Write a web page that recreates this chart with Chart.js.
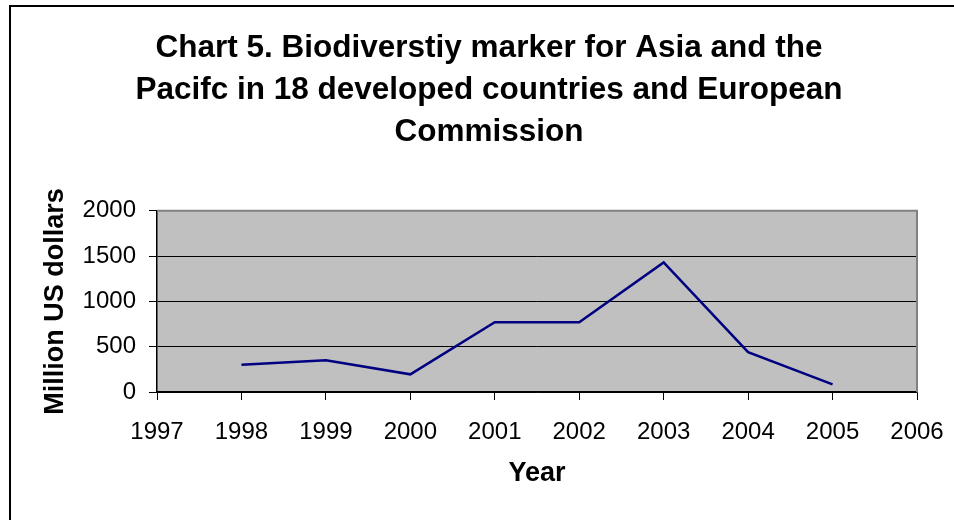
<!DOCTYPE html>
<html>
<head>
<meta charset="utf-8">
<title>Chart 5. Biodiversity marker</title>
<script src="https://cdn.jsdelivr.net/npm/chart.js@4.4.1/dist/chart.umd.min.js"></script>
<style>
    html, body { margin: 0; padding: 0; background: #fff; }
    #wrap { width: 954px; height: 520px; position: relative; }
</style>
</head>
<body>
<div id="wrap"><canvas id="ctx"></canvas></div>
<script>
// Biodiversity marker, Asia and the Pacific (million US dollars)
const years = [1998, 1999, 2000, 2001, 2002, 2003, 2004, 2005];
const values = [300, 350, 195, 770, 770, 1430, 440, 85];
const yearRange = [1997, 2006];
const valueTicks = [0, 500, 1000, 1500, 2000];

const titleLines = [
    'Chart 5. Biodiverstiy marker for Asia and the',
    'Pacifc in 18 developed countries and European',
    'Commission'
];

const FONT = "'Liberation Sans', Arial, sans-serif";

// grey plot area, its grey top/right edge and the outer frame
const excelFrame = {
    id: 'excelFrame',
    beforeDraw: function (chart) {
        let a = chart.chartArea, c = chart.ctx;
        c.save();
        c.fillStyle = '#fff';
        c.fillRect(0, 0, chart.width, chart.height);
        c.fillStyle = '#c0c0c0';
        c.fillRect(a.left, a.top, a.right - a.left, a.bottom - a.top);
        c.restore();
    },
    beforeDatasetsDraw: function (chart) {
        let a = chart.chartArea, c = chart.ctx;
        c.save();
        c.strokeStyle = '#808080';
        c.lineWidth = 2;
        c.beginPath();
        c.moveTo(a.left, a.top);
        c.lineTo(a.right, a.top);
        c.lineTo(a.right, a.bottom);
        c.stroke();
        c.restore();
    },
    afterDraw: function (chart) {
        let c = chart.ctx;
        c.save();
        c.strokeStyle = '#000';
        c.lineWidth = 2;
        c.beginPath();
        c.moveTo(10, chart.height);
        c.lineTo(10, 6);
        c.lineTo(chart.width, 6);
        c.stroke();
        c.restore();
    }
};

let chart = new Chart(document.getElementById('ctx'), {
    type: 'line',
    data: {
        datasets: [{
            label: 'Biodiversity marker',
            data: years.map((y, i) => ({x: y, y: values[i]})),
            borderColor: '#000080',
            borderWidth: 2.5,
            pointRadius: 0,
            tension: 0,
            fill: false
        }]
    },
    options: {
        responsive: true,
        maintainAspectRatio: false,
        animation: false,
        layout: {padding: {left: 24, right: 0, top: 0, bottom: 0}},
        plugins: {
            legend: {display: false},
            tooltip: {enabled: false},
            title: {
                display: true,
                text: titleLines,
                color: '#000',
                font: {family: FONT, size: 31.5, weight: 'bold', lineHeight: 1.32},
                padding: {top: 28, bottom: 58}
            }
        },
        scales: {
            x: {
                type: 'linear',
                min: yearRange[0],
                max: yearRange[1],
                afterFit: function (scale) {
                    scale.height = 128;
                    scale.paddingRight = 37;
                },
                ticks: {
                    stepSize: 1,
                    padding: 18,
                    color: '#000',
                    maxRotation: 0,
                    font: {family: FONT, size: 24},
                    callback: v => String(v)
                },
                grid: {
                    drawOnChartArea: false,
                    drawTicks: true,
                    tickLength: 8,
                    color: '#000',
                    tickColor: '#000'
                },
                border: {display: true, color: '#000', width: 1.5},
                title: {
                    display: true,
                    text: 'Year',
                    color: '#000',
                    font: {family: FONT, size: 27, weight: 'bold', lineHeight: 1.2},
                    padding: {top: 0, bottom: 30}
                }
            },
            y: {
                min: valueTicks[0],
                max: valueTicks[valueTicks.length - 1],
                afterFit: function (scale) {
                    scale.width = 133;
                },
                afterBuildTicks: function (scale) {
                    scale.ticks = valueTicks.map(v => ({value: v}));
                },
                ticks: {
                    padding: 13,
                    color: '#000',
                    font: {family: FONT, size: 24},
                    callback: v => String(v)
                },
                grid: {
                    drawTicks: true,
                    tickLength: 8,
                    color: ctx => (ctx.tick && ctx.tick.value === 2000) ? '#808080' : '#000',
                    tickColor: '#000'
                },
                border: {display: true, color: '#000', width: 1.5},
                title: {
                    display: true,
                    text: 'Million US dollars',
                    color: '#000',
                    font: {family: FONT, size: 27, weight: 'bold', lineHeight: 1.2},
                    padding: {top: 15, bottom: 0}
                }
            }
        }
    },
    plugins: [excelFrame]
});
</script>
</body>
</html>
